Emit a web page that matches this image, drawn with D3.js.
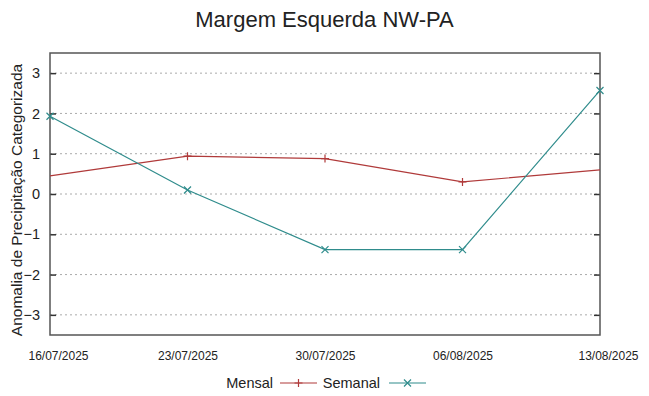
<!DOCTYPE html>
<html>
<head>
<meta charset="utf-8">
<script src="https://cdn.jsdelivr.net/npm/d3@7"></script>
<style>
  body { margin: 0; background: #fff; }
  text { font-family: "Liberation Sans", Arial, sans-serif; fill: #222; }
</style>
</head>
<body>
<div id="graf"></div>
<script>
// dados
datas = ['16/07/2025', '23/07/2025', '30/07/2025', '06/08/2025', '13/08/2025']
mensal = [0.45, 0.94, 0.88, 0.30, 0.60]
semanal = [1.93, 0.10, -1.38, -1.38, 2.57]
yTicks = [-3, -2, -1, 0, 1, 2, 3]

parseTime = d3.timeParse('%d/%m/%Y')
fmt = d3.timeFormat('%d/%m/%Y')

ancho_total = 649
alto_total = 396
margins = { top: 53, left: 50, right: 49, bottom: 61 }
ancho = ancho_total - margins.left - margins.right
alto = alto_total - margins.top - margins.bottom

svg = d3.select('#graf').append('svg')
        .attr('width', ancho_total)
        .attr('height', alto_total)

svg.append('text')
        .attr('x', ancho_total / 2)
        .attr('y', 27)
        .attr('text-anchor', 'middle')
        .style('font-size', '22px')
        .text('Margem Esquerda NW-PA')

g = svg.append('g')
        .attr('transform', `translate(${margins.left}, ${margins.top})`)

fechas = datas.map(parseTime)
x = d3.scaleTime().domain(d3.extent(fechas)).range([0, ancho])
y = d3.scaleLinear().domain([-3.5, 3.5]).range([alto, 0])

// grid
g.selectAll('.grid').data(yTicks).enter().append('line')
        .attr('x1', 0).attr('x2', ancho)
        .attr('y1', d => y(d)).attr('y2', d => y(d))
        .attr('stroke', '#aaa')
        .attr('stroke-width', 1)
        .attr('stroke-dasharray', '2,3')

// eixos
yAxis = g.append('g')
        .call(d3.axisLeft(y).tickValues(yTicks).tickSize(-6).tickPadding(10).tickFormat(d3.format('d')))
yAxis.select('.domain').remove()
yAxis.selectAll('line').attr('stroke', '#333').attr('stroke-width', 1.5)
yAxis.selectAll('text').style('font-size', '14.5px').style('font-family', 'Liberation Sans, Arial, sans-serif').attr('fill', '#222')

yAxisR = g.append('g')
        .attr('transform', `translate(${ancho}, 0)`)
        .call(d3.axisRight(y).tickValues(yTicks).tickSize(-6).tickFormat(''))
yAxisR.select('.domain').remove()
yAxisR.selectAll('line').attr('stroke', '#333').attr('stroke-width', 1.5)

xAxis = g.append('g')
        .attr('transform', `translate(0, ${alto})`)
        .call(d3.axisBottom(x).tickValues(fechas).tickSize(0).tickPadding(16).tickFormat(fmt))
xAxis.select('.domain').remove()
xAxis.selectAll('text')
        .style('font-size', '12px')
        .style('font-family', '"Liberation Sans Narrow", "Liberation Sans", Arial, sans-serif')
        .attr('fill', '#222')
        .attr('dx', (d, i) => (i === 0 || i === fechas.length - 1) ? 8 : 0)

// moldura
g.append('rect')
        .attr('width', ancho).attr('height', alto)
        .attr('fill', 'none')
        .attr('stroke', '#555')
        .attr('stroke-width', 1.5)

svg.append('text')
        .attr('transform', `translate(22, ${margins.top + alto / 2 + 6}) rotate(-90)`)
        .attr('text-anchor', 'middle')
        .style('font-size', '15.5px')
        .text('Anomalia de Precipitação Categorizada')

corMensal = '#b03a3a'
corSemanal = '#2f8c8c'

linea = d3.line()
        .x(d => x(d.date))
        .y(d => y(d.v))

dMensal = fechas.map((f, i) => ({ date: f, v: mensal[i] }))
dSemanal = fechas.map((f, i) => ({ date: f, v: semanal[i] }))

g.append('path').datum(dMensal)
        .attr('d', linea).attr('fill', 'none')
        .attr('stroke', corMensal).attr('stroke-width', 1.2)
g.append('path').datum(dSemanal)
        .attr('d', linea).attr('fill', 'none')
        .attr('stroke', corSemanal).attr('stroke-width', 1.2)

function plus(sel, cx, cy, c) {
        sel.append('path')
                .attr('d', `M${cx - 4},${cy}H${cx + 4}M${cx},${cy - 4}V${cy + 4}`)
                .attr('stroke', c).attr('stroke-width', 1.2)
}
function cross(sel, cx, cy, c) {
        sel.append('path')
                .attr('d', `M${cx - 3.5},${cy - 3.5}L${cx + 3.5},${cy + 3.5}M${cx - 3.5},${cy + 3.5}L${cx + 3.5},${cy - 3.5}`)
                .attr('stroke', c).attr('stroke-width', 1.2)
}

// marcadores mensais so nos pontos internos
dMensal.slice(1, -1).forEach(d => plus(g, x(d.date), y(d.v), corMensal))
dSemanal.forEach(d => cross(g, x(d.date), y(d.v), corSemanal))

// legenda
ly = 383
svg.append('text').attr('x', 273).attr('y', ly + 5)
        .attr('text-anchor', 'end').style('font-size', '14.5px').text('Mensal')
svg.append('line').attr('x1', 280).attr('x2', 317).attr('y1', ly).attr('y2', ly)
        .attr('stroke', corMensal).attr('stroke-width', 1.2)
plus(svg, 298.5, ly, corMensal)
svg.append('text').attr('x', 380).attr('y', ly + 5)
        .attr('text-anchor', 'end').style('font-size', '14.5px').text('Semanal')
svg.append('line').attr('x1', 389).attr('x2', 426).attr('y1', ly).attr('y2', ly)
        .attr('stroke', corSemanal).attr('stroke-width', 1.2)
cross(svg, 407.5, ly, corSemanal)
</script>
</body>
</html>
